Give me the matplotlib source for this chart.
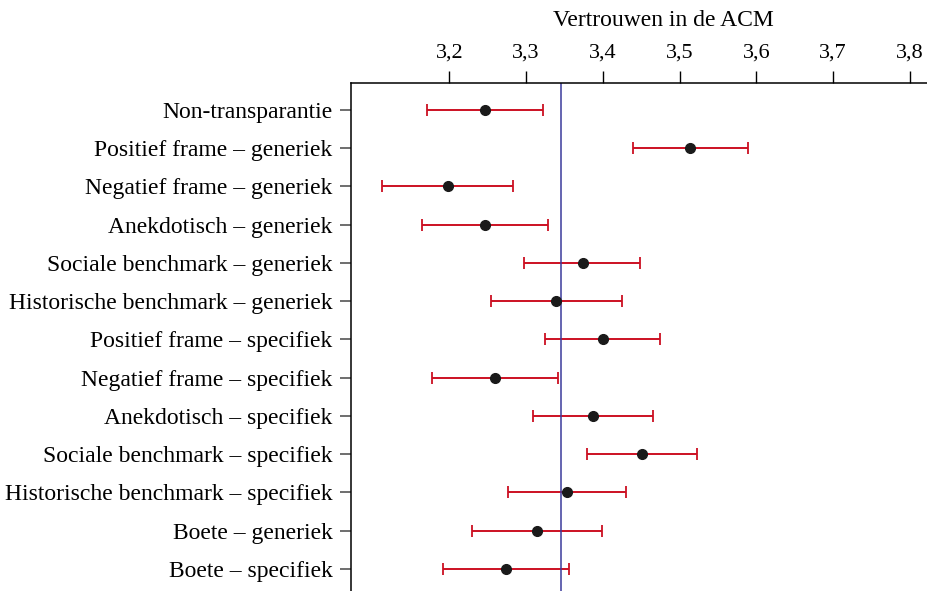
import matplotlib
matplotlib.use('Agg')
import matplotlib.pyplot as plt
from matplotlib.ticker import FuncFormatter

conditions = [
    'Non-transparantie',
    'Positief frame – generiek',
    'Negatief frame – generiek',
    'Anekdotisch – generiek',
    'Sociale benchmark – generiek',
    'Historische benchmark – generiek',
    'Positief frame – specifiek',
    'Negatief frame – specifiek',
    'Anekdotisch – specifiek',
    'Sociale benchmark – specifiek',
    'Historische benchmark – specifiek',
    'Boete – generiek',
    'Boete – specifiek',
]
means = [3.246, 3.514, 3.198, 3.246, 3.374, 3.339, 3.400, 3.260, 3.387, 3.451, 3.353, 3.314, 3.274]
lower = [3.171, 3.439, 3.113, 3.164, 3.297, 3.254, 3.325, 3.178, 3.309, 3.380, 3.276, 3.230, 3.192]
upper = [3.322, 3.589, 3.283, 3.329, 3.449, 3.425, 3.475, 3.341, 3.465, 3.523, 3.430, 3.399, 3.356]
reference = 3.345
x_ticks = [3.2, 3.3, 3.4, 3.5, 3.6, 3.7, 3.8]

plt.rcParams['font.family'] = ['Liberation Serif', 'DejaVu Serif']

fig = plt.figure(figsize=(9.28, 5.91), dpi=100)
ax = fig.add_axes([0.378, 0.0, 0.622, 0.86])

rows = list(range(len(conditions)))
err = [[m - l for m, l in zip(means, lower)], [u - m for m, u in zip(means, upper)]]
ax.errorbar(means, rows, xerr=err, fmt='none', ecolor='#cc1022', elinewidth=1.4,
            capsize=4.5, capthick=1.3, zorder=2)
ax.axvline(reference, color='#3b3b9b', linewidth=1.1, zorder=2.5)
ax.plot(means, rows, 'o', color='#1a1a1a', markersize=7, zorder=3)

ax.set_xlim(3.0717, 3.8235)
ax.set_ylim(12.575, -0.706)
ax.set_yticks(rows)
ax.set_yticklabels(conditions, fontsize=17)
ax.set_xticks(x_ticks)
ax.xaxis.set_major_formatter(FuncFormatter(lambda v, p: f'{v:.1f}'.replace('.', ',')))
ax.xaxis.tick_top()
ax.xaxis.set_label_position('top')
ax.set_xlabel('Vertrouwen in de ACM', fontsize=17)
# the plotting area continues past the right edge, so the title sits off-centre
ax.xaxis.set_label_coords(0.541, 1.112)
ax.tick_params(axis='x', length=8.5, width=1, labelsize=16, pad=6)
ax.tick_params(axis='y', length=8, width=1.2, color='#555555', pad=5)

ax.spines['right'].set_visible(False)
ax.spines['bottom'].set_visible(False)
for s in ['left', 'top']:
    ax.spines[s].set_linewidth(1.1)

fig.savefig('out.png', dpi=100)
